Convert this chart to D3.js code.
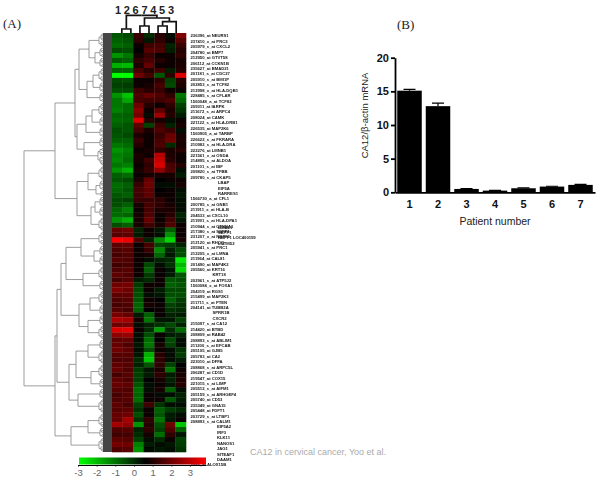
<!DOCTYPE html>
<meta charset="utf-8">
<style>
body { margin: 0; background: #fff; }
svg { display: block; }
text { font-family: "Liberation Sans", sans-serif; }
.serif { font-family: "Liberation Serif", serif; font-size: 13px; fill: #222; }
.row-label { font-size: 4.2px; font-weight: bold; fill: #111; }
.tree-link { fill: none; stroke: #8c8c8c; stroke-width: 0.85px; }
.col-link { fill: none; stroke: #111; stroke-width: 1.7px; }
.col-label { font-size: 11px; font-weight: bold; fill: #222; text-anchor: middle; }
.bar-axis path, .bar-axis line { stroke: #000; stroke-width: 1.8px; }
.bar-axis text { font-size: 11px; font-weight: bold; fill: #111; }
.bar-title { font-size: 10.5px; fill: #222; }
.key-axis path, .key-axis line { stroke: #000; stroke-width: 1px; }
.key-axis text { font-size: 9.5px; fill: #666; }
</style>
<svg width="600" height="493"></svg>
<script src="https://d3js.org/d3.v7.min.js"></script>
<script>

var columns = ["1", "2", "6", "7", "4", "5", "3"];

// expression per row, same order as columns
var heatRows = [
  [-1.2,-1.0,0.7,-0.6,0.5,-0.2,1.6],[-1.3,-1.2,0.6,-0.3,0.6,0.2,1.1],[-1.5,-1.3,0.1,0.8,0.9,-0.5,0.7],
  [-1.0,-1.1,0,1.1,1.0,-0.4,0.5],[-1.9,-1.6,0.3,0.7,0.2,0.1,0.6],[-1.2,-1.3,0.6,0.9,0.5,0.1,0.3],
  [-2.2,-2.3,0.4,1.3,0.1,0.1,0.4],[-1.3,-1.3,0.9,0.5,0.8,-0.4,0.5],[-3,-3,1.4,0.9,-1.2,0.6,2.6],
  [-1.0,-1.1,0.2,0.1,0.6,-0.9,0.5],[-0.9,-0.8,0.2,0.3,0.9,-1.0,0.4],[-1.1,-1.0,0.8,0.5,0.7,0.1,0.2],
  [-1.9,-2.4,1.0,1.3,1.0,0.6,-1.6],[-1.6,-2.1,0.9,0.8,0.8,1.0,-1.4],[-1.6,-1.5,1.4,0.5,0.1,0.6,-0.9],
  [-1.7,-1.5,1.7,0.2,1.2,0.4,-0.7],[-1.4,-1.3,1.5,-0.1,1.9,0.5,-0.4],[-1.5,-1.4,2.6,0.5,0.3,-0.2,0.1],
  [-1.3,-1.2,1.2,-0.9,0.8,-0.5,0.3],[-1.1,-1.2,0.9,0.4,1.0,0.7,-0.2],[-1.2,-1.0,0.4,0.1,0.7,1.3,0.3],
  [-1.3,-1.3,0.7,0.2,0.9,1.4,0.4],[-1.6,-1.5,0.5,0.1,1.0,-0.6,0.3],[-1.9,-1.7,0.1,0.3,0.6,0.4,0.5],
  [-1.7,-1.6,0.4,0.2,2.2,0.4,0.2],[-1.8,-1.5,0.3,0.8,2.4,0.5,0.1],[-1.6,-1.7,0.2,0.6,2.6,0.9,0.5],
  [-1.9,-2.2,0.3,0.7,1.8,1.0,-0.2],[-1.3,-1.5,0.1,0.3,0.3,0.3,-0.4],[-1.2,-1.0,0.4,1.3,0,0.1,0.2],
  [-1.5,-1.3,0.7,1.4,-0.1,-0.2,0.3],[-1.4,-1.2,0.9,1.2,0,0.1,-0.2],[-1.2,-1.3,0.8,1.2,0.1,0.1,-0.3],
  [-1.0,-0.9,0.7,0.7,0.6,0.2,-0.2],[-1.1,-1.3,0.3,0.9,0.6,0.3,-0.1],[-1.4,-1.7,0.2,0.9,0.4,0.4,-0.1],
  [-1.5,-1.4,0.3,1.0,0.1,0.5,-0.5],[-1.9,-2.2,0.3,1.3,0.1,0.8,-0.3],[-1.1,-1.3,0.3,0.8,0.3,1.0,0.1],
  [1.3,1.4,-0.5,0.1,-0.3,-1.3,0.2],[1.1,1.2,-0.4,0.2,-0.2,-1.9,0.1],[3,2.8,1.0,-0.5,-1.8,-2.6,0.3],
  [1.2,1.3,0.1,0.9,-1.0,-0.8,-0.5],[1.0,1.1,0.1,0.7,-1.8,-0.5,-1.0],[0.9,1.0,0.2,0.3,-1.4,-0.3,-1.1],
  [1.1,1.0,0.1,-0.2,-0.5,-0.6,-2.8],[0.8,0.9,0.1,-1.0,-0.2,-0.7,-2.3],[1.0,1.1,0.1,-1.3,0.1,-0.3,-2.6],
  [1.2,1.0,0.2,-0.8,0.1,-0.4,-1.2],[0.9,1.1,-0.4,-0.6,0.2,-1.2,-1.1],[1.4,1.5,-0.8,0.1,0.2,-1.3,-1.2],
  [1.6,1.4,-1.0,0.2,-0.4,-1.0,-1.0],[1.2,1.2,-1.1,-0.1,-0.3,-1.1,-1.1],[1.0,1.1,-1.2,0.2,0,-1.3,-0.8],
  [0.9,1.0,-1.4,0.3,0.1,-0.9,-0.7],[1.1,0.9,-1.3,0,0.1,-0.7,-0.6],[1.5,1.3,-0.4,-1.3,0.1,-0.5,-0.4],
  [2.1,2.0,0.3,-1.6,-0.3,-0.3,-0.9],[1.4,1.5,-0.2,-0.5,-0.7,-1.0,-0.5],[2.6,2.7,0.1,-0.6,-2.0,-0.6,-1.5],
  [1.8,1.9,-0.2,-1.1,0.1,-0.4,-0.5],[1.2,1.3,-0.2,-1.5,0,-1.0,-0.2],[1.3,1.0,-0.3,-1.6,0.3,-0.9,-0.1],
  [1.4,1.2,-0.2,-1.1,0.2,-0.2,-0.7],[1.1,1.1,-0.3,-2.2,0.5,-0.1,-0.8],[1.0,1.0,-0.6,-2.4,0.6,-0.1,-0.4],
  [1.2,1.1,-0.5,-1.2,0.6,-0.9,0],[1.3,1.0,-0.8,-0.3,0.4,-1.6,0.1],[0.9,1.1,-0.9,-0.4,0.6,-0.4,0.3],
  [1.2,1.0,-0.9,0,0.3,-0.5,0.4],[1.3,1.2,-1.2,-0.2,0.1,-0.3,0.5],[1.1,1.0,-1.5,-0.1,0.3,-1.3,-0.1],
  [0.9,1.1,-1.4,0.1,-0.1,-0.2,-0.5],[1.0,1.1,-1.5,0.1,0.2,-1.2,-0.4],[1.2,0.9,-0.9,0.8,-0.7,-0.2,-0.2],
  [1.1,1.2,-0.7,0.2,-1.3,-0.8,-0.6],[1.3,1.4,-1.1,0.1,-1.2,-0.4,-0.1],[1.3,2.0,-0.7,0.6,-1.6,-0.3,0.2],
  [2.0,1.8,-1.9,0.5,-1.1,1.4,-2.4],[1.0,1.1,-0.5,0.6,-0.9,1.0,-1.3],[0.8,0.9,-0.6,0.3,-1.5,0.6,-0.3],
  [1.2,1.1,-0.9,-0.2,-0.6,0.1,-0.9],[1.5,1.4,-1.7,-0.4,-0.2,-0.3,-0.8],[1.0,1.1,-1.9,-0.1,-0.3,-0.2,-0.7]
];

var rowLabels = [
  "236396_at NEURS1","237410_x_at PRC2","205979_s_at CXCL2","204780_at BMP7","212950_at GTVT58",
  "206112_at CCKN1B","235627_at BMAD21","201181_s_at CDC27","205910_s_at BMI1P","202853_s_at TCF82",
  "212998_x_at HLA-DQB1","228485_s_at CFLAR","1560048_a_at TCF82","209311_at IARPK","211672_s_at ARPC4",
  "208024_at CAMK","221122_s_at HLA-DRB1","226535_at MAP2K6","1560905_a_at TARBP","226622_s_at FKRARA",
  "210982_s_at HLA-DRA","222276_at LMNB1","221561_x_at OSDA","214895_s_at ALDOA","201101_s_at IBF",
  "209820_s_at TFBB","209780_s_at CKAP5","LBAP","EIF5A","RARRES1",
  "1566730_a_at CFL1","200785_s_at GNB1","211911_x_at HLA-B","204533_at CXCL10","211991_s_at HLA-DPA1",
  "210944_s_at CTNNA1","217380_s_at SEPP1","231207_x_at NBPF1","212120_at RHOQ","205941_s_at PRC1",
  "212205_x_at LMNA","211964_at CAL81","201490_at MAP4K2","205560_at KRT16","KRT18",
  "202961_s_at ATP5J2","1560084_x_at FOXA1","204319_at RGS1","215499_at MAP2K3","211711_s_at PTEN",
  "204141_at TUBB2A","SPRR1B","CXCR2","215097_s_at CA12","214420_at BTBD",
  "208809_at RAB42","208893_s_at ABLIM1","211200_s_at EFCAB","205105_at GJB5","205783_at CA2",
  "223010_at DFFA","208868_s_at ARPC5L","206287_at CD1D","219547_at COX15","221015_s_at LIMP",
  "205512_s_at AIFM1","205159_s_at ARHGEF4","205740_at CD53","235349_at GNA15","205448_at FDFT1",
  "203729_s_at LTBP1","208893_s_at CALM1","EIF5A2","IRF3","KLK11",
  "NANOS1","JAG1","SITEAF1","DAAM1","208x_at ALOX15B"
];

// gene names printed on top of the probes around row 35
var extraLabels = ["BMAL1", "SEPP1", "NBPF1 LOC400159", "LGTM52"];

// row dendrogram, [height, left, right], 0 is a leaf
var t2 = [2, [1, 0, 0], 0];
var t3 = [3, [2, 0, [1, 0, 0]], [1, 0, 0]];
var t4 = [4, [2, [1, 0, 0], [1, 0, 0]], [2, 0, [1, 0, 0]]];
var t5 = [5, [3, [1, 0, 0], [2, 0, 0]], [3, [1, 0, 0], [2, 0, [1, 0, 0]]]];
var rowTree = [79,
  [48,
    [28,
      [24, [14, t4, [8, t3, t3]], [16, [10, t4, t3], t3]],
      [26, [17, [11, t4, t3], t3], [19, t3, t5]]],
    [26, [15, t4, [7, t3, t2]], [12, [8, t3, t3], t4]]],
  [48,
    [46,
      [42,
        [37, [22, t4, [9, t3, t3]], [20, t4, t3]],
        [24, [13, t4, t3], [15, t3, t4]]],
      [34, [27, [15, t3, t4], [12, t4, t3]], [25, t3, t4]]],
    [32, [15, t4, t3], t4]]
];

// sample dendrogram, same shape of node
var colTree = [17.7, [4, 0, 0], [15, [7, 0, 0], [11.3, [7, 0, 0], 0]]];

var keyTicks = [-3, -2, -1, 0, 1, 2, 3];

var patients = ["1", "2", "3", "4", "5", "6", "7"];
var ratios = [15.1, 12.8, 0.5, 0.25, 0.6, 0.85, 1.1];
var ratioErrors = [0.2, 0.45, 0.05, 0.05, 0.05, 0.05, 0.08];
var ratioTicks = [0, 5, 10, 15, 20];

var svg = d3.select("svg");

var defs = svg.append("defs");
defs.append("filter").attr("id", "soft").append("feGaussianBlur").attr("stdDeviation", 0.45);

var color = d3.scaleLinear()
    .domain([-3, -1.5, 0, 1.5, 3])
    .range(["#00ff00", "#006c00", "#000000", "#760000", "#ff0000"]);

// ---- panel A

var x = d3.scaleBand().domain(d3.range(columns.length)).range([112, 186]);
var y = d3.scaleBand().domain(d3.range(heatRows.length)).range([33, 452]);

var heat = svg.append("g").attr("filter", "url(#soft)");

heat.selectAll("g").data(heatRows).join("g")
    .attr("transform", function(d, i) { return "translate(0," + y(i) + ")"; })
  .selectAll("rect").data(function(d) { return d; }).join("rect")
    .attr("x", function(d, i) { return x(i); })
    .attr("width", x.bandwidth() + 0.3)
    .attr("height", y.bandwidth() + 0.3)
    .attr("fill", function(d) { return color(d); });

heat.append("rect")
    .attr("x", 103).attr("y", y.range()[0])
    .attr("width", 9).attr("height", y.range()[1] - y.range()[0])
    .attr("fill", "#444");

function kids(d) { return Array.isArray(d) ? d.slice(1) : null; }
function nodeHeight(d) { return Array.isArray(d.data) ? d.data[0] : 0; }

var rowRoot = d3.hierarchy(rowTree, kids);
d3.cluster().separation(function() { return 1; }).size([y.range()[1] - y.range()[0], 1])(rowRoot);

var treeX = d3.scaleLinear().domain([0, 79]).range([103, 24]);

svg.append("g").attr("filter", "url(#soft)")
  .selectAll("path").data(rowRoot.links()).join("path")
    .attr("class", "tree-link")
    .attr("d", function(l) {
      return "M" + treeX(nodeHeight(l.target)) + "," + (33 + l.target.x) +
             "H" + treeX(nodeHeight(l.source)) + "V" + (33 + l.source.x);
    });

var colRoot = d3.hierarchy(colTree, kids);
d3.cluster().separation(function() { return 1; })
    .size([x(6) - x(0), 1])(colRoot);

var treeY = d3.scaleLinear().domain([0, 17.7]).range([33, 15.3]);
var colStart = x(0) + x.bandwidth() / 2;

svg.append("g").selectAll("path").data(colRoot.links()).join("path")
    .attr("class", "col-link")
    .attr("d", function(l) {
      return "M" + (colStart + l.target.x) + "," + treeY(nodeHeight(l.target)) +
             "V" + treeY(nodeHeight(l.source)) + "H" + (colStart + l.source.x);
    });

var colLabelX = d3.scalePoint().domain(columns).range([118, 171]);

svg.append("g").selectAll("text").data(columns).join("text")
    .attr("class", "col-label")
    .attr("x", function(d) { return colLabelX(d); })
    .attr("y", 14)
    .text(function(d) { return d; });

var labelY = d3.scaleLinear().domain([0, rowLabels.length - 1]).range([36, 465]);

function labelX(d, i) {
  if (d.indexOf("_") >= 0) return 190.5;
  if (i < 30) return 218;
  if (i < 55) return 212.5;
  return 217;
}

svg.append("g").attr("filter", "url(#soft)")
  .selectAll("text").data(rowLabels).join("text")
    .attr("class", "row-label")
    .attr("x", labelX)
    .attr("y", function(d, i) { return labelY(i); })
    .attr("dy", "0.35em")
    .text(function(d) { return d; });

svg.append("g").attr("filter", "url(#soft)")
  .selectAll("text").data(extraLabels).join("text")
    .attr("class", "row-label")
    .attr("x", 218)
    .attr("y", function(d, i) { return labelY(35.2 + i); })
    .attr("dy", "0.35em")
    .text(function(d) { return d; });

// ---- colour key

var keyGrad = defs.append("linearGradient").attr("id", "key");
keyGrad.append("stop").attr("offset", "0%").attr("stop-color", color(-3));
keyGrad.append("stop").attr("offset", "52%").attr("stop-color", color(0));
keyGrad.append("stop").attr("offset", "100%").attr("stop-color", color(3));

svg.append("rect")
    .attr("x", 79).attr("y", 457.5)
    .attr("width", 127).attr("height", 7)
    .attr("fill", "url(#key)");

var keyScale = d3.scaleLinear().domain([-3, 3.86]).range([78, 206]);

svg.append("g")
    .attr("class", "key-axis")
    .attr("transform", "translate(0,465)")
    .call(d3.axisBottom(keyScale).tickValues(keyTicks).tickSize(1.5).tickSizeOuter(0).tickPadding(3)
      .tickFormat(function(d) { return String(d); }));

svg.append("text")
    .attr("x", 250).attr("y", 455)
    .attr("font-size", 9).attr("fill", "#aaa")
    .text("CA12 in cervical cancer, Yoo et al.");

svg.append("text").attr("class", "serif").attr("x", 3).attr("y", 28).text("(A)");
svg.append("text").attr("class", "serif").attr("x", 397).attr("y", 29).text("(B)");

// ---- panel B

var barX = d3.scaleBand().domain(patients).range([395, 595]).paddingInner(0.14).paddingOuter(0.079);
var barY = d3.scaleLinear().domain([0, 20]).range([192.3, 57.7]);

var bars = svg.append("g");

bars.selectAll("rect").data(ratios).join("rect")
    .attr("x", function(d, i) { return barX(patients[i]); })
    .attr("y", function(d) { return barY(d); })
    .attr("width", barX.bandwidth())
    .attr("height", function(d) { return barY(0) - barY(d); })
    .attr("fill", "#000");

bars.selectAll("path").data(ratios).join("path")
    .attr("fill", "none").attr("stroke", "#000").attr("stroke-width", 1.2)
    .attr("d", function(d, i) {
      var c = barX(patients[i]) + barX.bandwidth() / 2;
      return "M" + c + "," + barY(d) + "V" + barY(d + ratioErrors[i]) + "M" + (c - 6) + "," + barY(d + ratioErrors[i]) + "H" + (c + 6);
    });

svg.append("g")
    .attr("class", "bar-axis")
    .attr("transform", "translate(395,0)")
    .call(d3.axisLeft(barY).tickValues(ratioTicks).tickSize(4).tickSizeOuter(0).tickPadding(2));

svg.append("g")
    .attr("class", "bar-axis")
    .attr("transform", "translate(0,192.3)")
    .call(d3.axisBottom(barX).tickSize(0).tickPadding(8));

svg.append("text")
    .attr("class", "bar-title")
    .attr("x", 495).attr("y", 225)
    .attr("text-anchor", "middle")
    .text("Patient number");

svg.append("text")
    .attr("class", "bar-title")
    .attr("font-size", 9.5)
    .style("font-size", "9.5px")
    .attr("transform", "translate(368,115.5) rotate(-90)")
    .attr("text-anchor", "middle")
    .text("CA12/β-actin mRNA");

</script>
